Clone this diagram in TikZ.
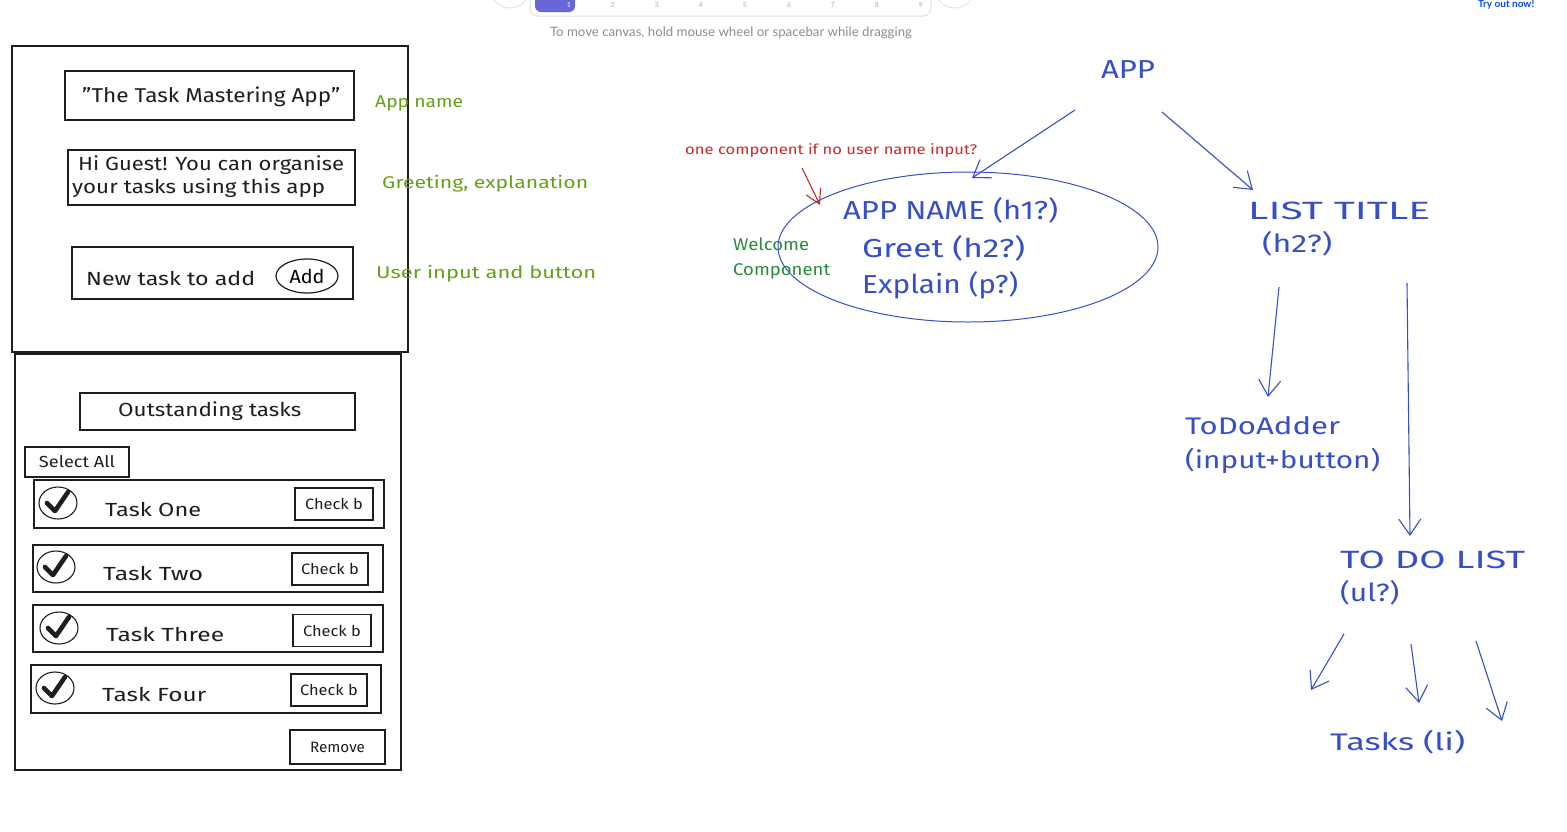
\documentclass[tikz,border=0pt]{standalone}
\usepackage{fontspec}
\setmainfont{Fira Sans}
\newfontfamily\uifont{Lato}
\usetikzlibrary{arrows.meta,shapes.geometric,calc}
\definecolor{ink}{RGB}{30,30,30}
\definecolor{blueink}{RGB}{54,79,199}
\definecolor{greenink}{RGB}{102,160,25}
\definecolor{tealink}{RGB}{43,138,62}
\definecolor{redink}{RGB}{201,42,42}
\definecolor{uigray}{RGB}{134,142,150}
\definecolor{uipurple}{RGB}{105,101,219}
\newcommand\fw[2]{\resizebox{#1pt}{\height}{#2}}
\tikzset{
  box/.style={draw=ink,line width=1.2pt},
  frame/.style={draw=ink,line width=1.3pt},
  lbl/.style={text=ink,inner sep=0pt,font=\fontsize{19}{22}\selectfont},
  green/.style={text=greenink,inner sep=0pt,anchor=west,font=\fontsize{17}{20}\selectfont},
  bluet/.style={text=blueink,inner sep=0pt,anchor=west,font=\fontsize{26}{30}\selectfont},
  barrow/.style={draw=blueink,line width=1.1pt,-{Straight Barb[length=16pt,width=22pt,line width=1.1pt]}},
  checkc/.style={draw=ink,line width=1.1pt,ellipse,minimum width=38pt,minimum height=32pt,inner sep=0pt},
  checkmark/.style={draw=ink,line width=4.6pt,line cap=round,line join=round},
  chk/.style={box,minimum width=76pt,minimum height=32pt,inner sep=0pt,font=\fontsize{15}{18}\selectfont,text=ink}
}
\begin{document}
\begin{tikzpicture}[x=1pt,y=-1pt]
\useasboundingbox (0,0) rectangle (1567,831);
\clip (0,0) rectangle (1567,831);
% ---- UI fragments ----
\draw[fill=white,draw=black!10,line width=1pt] (510,-12) circle (20);
\draw[fill=white,draw=black!10,line width=1pt] (955,-12) circle (20);
\draw[fill=white,draw=black!12,line width=1pt,rounded corners=8pt] (530,-30) rectangle (931,16);
\node[fill=uipurple,rounded corners=6pt,minimum width=40pt,minimum height=24pt,inner sep=0pt] (tab) at (555,0) {};
\node[text=white,font=\uifont\fontsize{7}{8}\selectfont,inner sep=0pt] (d1) at (569,5) {1};
\foreach \n/\x in {2/613,3/657,4/701,5/745,6/789,7/833,8/877,9/921}
  \node[text=uigray!70,font=\uifont\fontsize{7}{8}\selectfont,inner sep=0pt] (d\n) at (\x,5) {\n};
\node[text=uigray,font=\uifont\fontsize{13}{15}\selectfont,inner sep=0pt] (hint) at (731,33) {\fw{362}{To move canvas, hold mouse wheel or spacebar while dragging}};
\node[text=blue!70!cyan,font=\uifont\bfseries\fontsize{10}{12}\selectfont,inner sep=0pt,anchor=west] (try) at (1478,5) {Try out now!};
% ---- left wireframe ----
\draw[frame] (12,46) rectangle (408,352);
\draw[frame] (15,354) rectangle (401,770);
\node[box,minimum width=289pt,minimum height=49pt] (title) at (209.5,95.5) {};
\node[lbl,anchor=west,font=\fontsize{20}{24}\selectfont] (titlet) at (82,97) {\fw{258}{\char34 The Task Mastering App\char34}};
\node[box,minimum width=287pt,minimum height=55pt] (greet) at (211.5,177.5) {};
\node[lbl,anchor=west,align=left,font=\fontsize{19}{23}\selectfont] (greett) at (72,176.5) {\hspace*{6pt}\fw{266}{Hi Guest! You can organise}\\\fw{253}{your tasks using this app}};
\node[box,minimum width=281pt,minimum height=52pt] (input) at (212.5,273) {};
\node[lbl,anchor=west] (inputt) at (86,278) {\fw{169}{New task to add}};
\node[draw=ink,line width=1.2pt,ellipse,minimum width=62pt,minimum height=34pt,inner sep=0pt,font=\fontsize{19}{22}\selectfont] (add) at (307,276) {\fw{35}{Add}};
\node[green] (g1) at (375,103) {\fw{88}{App name}};
\node[green] (g2) at (382,184) {\fw{206}{Greeting, explanation}};
\node[green] (g3) at (376,274) {\fw{220}{User input and button}};
% bottom frame
\node[box,minimum width=275pt,minimum height=37pt] (out) at (217.5,411.5) {};
\node[lbl,anchor=west] (outt) at (118,411) {\fw{183}{Outstanding tasks}};
\node[box,minimum width=104pt,minimum height=30pt,inner sep=0pt,font=\fontsize{16}{19}\selectfont,text=ink] (sel) at (77,462) {\fw{76}{Select All}};
% tasks
\foreach \i/\lx/\ty/\rx/\by/\cx/\cy/\tx/\name/\tw/\kx/\ky/\kw in {
  1/34/480/384/528/58/503/105/One/96/334/504/78,
  2/33/545/383/592/56/567/103/Two/100/330/569/76,
  3/33/605/383/652/59/628/106/Three/118/332/630.5/78,
  4/31/665/381/713/55/688/102/Four/104/329/690/76}{
  \draw[box] (\lx,\ty) rectangle (\rx,\by);
  \node[checkc] (c\i) at (\cx,\cy) {};
  \draw[checkmark] ($(c\i.center)+(-11,0)$) -- ($(c\i.center)+(-3,8)$) -- ($(c\i.center)+(10,-11)$);
  \node[lbl,anchor=west] (t\i) at (\tx,\cy+6) {\fw{\tw}{Task \name}};
  \node[chk,minimum width=\kw pt] (k\i) at (\kx,\ky) {\fw{58}{Check b}};
}
\node[box,minimum width=95pt,minimum height=34pt,inner sep=0pt,font=\fontsize{15}{18}\selectfont,text=ink] (rem) at (337.5,747) {\fw{55}{Remove}};
% ---- component tree ----
\node[text=blueink,inner sep=0pt,font=\fontsize{26}{30}\selectfont] (app) at (1128,70) {\fw{54}{APP}};
\node[draw=blueink,line width=1pt,ellipse,minimum width=380pt,minimum height=150pt,inner sep=0pt] (welc) at (968,247) {};
\node[bluet] (an) at (843,210) {\fw{215}{APP NAME (h1?)}};
\node[bluet] (gr) at (862,248) {\fw{163}{Greet (h2?)}};
\node[bluet] (ex) at (862,285) {\fw{156}{Explain (p?)}};
\node[text=tealink,inner sep=0pt,anchor=west,align=left,font=\fontsize{17}{25}\selectfont] (wc) at (733,258.5) {\fw{76}{Welcome}\\\fw{97}{Component}};
\node[text=redink,inner sep=0pt,anchor=west,font=\fontsize{14}{16}\selectfont] (red) at (685,151) {\fw{292}{one component if no user name input?}};
\coordinate (r1) at (802,168);
\coordinate (r2) at (820,205);
\draw[draw=redink,line width=1.1pt,-{Straight Barb[length=14pt,width=16pt,line width=1.1pt]}] (r1) -- (r2);
\node[bluet,align=left,font=\fontsize{25}{33}\selectfont] (lt) at (1248,229.5) {\fw{182}{LIST TITLE}\\\hspace*{14pt}\fw{70}{(h2?)}};
\node[bluet,align=left,font=\fontsize{24}{34}\selectfont] (tda) at (1185,445) {\fw{155}{ToDoAdder}\\\fw{195}{(input+button)}};
\node[bluet,align=left,font=\fontsize{25}{33}\selectfont] (tdl) at (1340,578) {\fw{185}{TO DO LIST}\\\fw{59}{(ul?)}};
\node[bluet,font=\fontsize{24}{28}\selectfont] (tasks) at (1330,742) {\fw{135}{Tasks (li)}};
\coordinate (a1s) at (1075,110); \coordinate (a1e) at (972,178);
\coordinate (a2s) at (1162,112); \coordinate (a2e) at (1253,190);
\coordinate (a3s) at (1279,287); \coordinate (a3e) at (1268,397);
\coordinate (a4s) at (1407,283); \coordinate (a4e) at (1410,536);
\coordinate (a5s) at (1344,634); \coordinate (a5e) at (1311,690);
\coordinate (a6s) at (1411,644); \coordinate (a6e) at (1419,703);
\coordinate (a7s) at (1476,641); \coordinate (a7e) at (1502,721);
\foreach \k in {1,...,7} \draw[barrow] (a\k s) -- (a\k e);
\end{tikzpicture}
\end{document}
